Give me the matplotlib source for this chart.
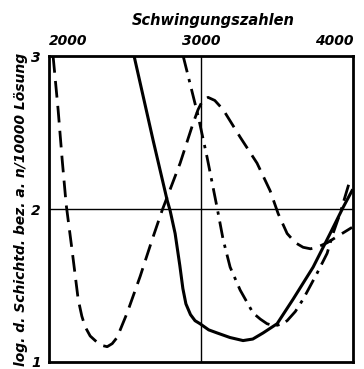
import matplotlib.pyplot as plt

# curves (x = Schwingungszahl, y = log Schichtdicke)
solid_x = [2559, 2684, 2776, 2796, 2829, 2860, 2880, 2900, 2930, 2960, 2993, 3050, 3105, 3190, 3276,
           3340, 3408, 3500, 3605, 3737, 3849, 3934, 3993]
solid_y = [3.00, 2.45, 2.06, 1.99, 1.84, 1.63, 1.48, 1.38, 1.31, 1.27, 1.25, 1.21, 1.19, 1.16, 1.14,
           1.15, 1.19, 1.25, 1.41, 1.62, 1.84, 2.01, 2.12]

dash_x = [2026, 2059, 2086, 2112, 2151, 2191, 2215, 2237, 2270, 2303, 2340, 2382, 2415, 2447, 2513,
          2599, 2678, 2743, 2862, 2947, 2980, 3010, 3046, 3090, 3145, 3257, 3368, 3454, 3507, 3566,
          3620, 3671, 3720, 3763, 3830, 3895, 3993]
dash_y = [3.00, 2.65, 2.32, 2.03, 1.73, 1.41, 1.30, 1.23, 1.17, 1.14, 1.11, 1.10, 1.12, 1.16, 1.32,
          1.56, 1.80, 1.99, 2.30, 2.56, 2.65, 2.71, 2.73, 2.71, 2.65, 2.47, 2.30, 2.12, 1.97, 1.84,
          1.78, 1.75, 1.74, 1.75, 1.78, 1.82, 1.88]

dashdot_x = [2882, 2980, 3039, 3105, 3145, 3191, 3257, 3342, 3390, 3434, 3470, 3500, 3535, 3566,
             3620, 3671, 3763, 3829, 3868, 3914, 3980]
dashdot_y = [3.00, 2.61, 2.34, 2.01, 1.80, 1.62, 1.47, 1.32, 1.28, 1.25, 1.24, 1.24, 1.25, 1.27,
             1.33, 1.41, 1.58, 1.71, 1.84, 1.97, 2.19]

xticks = [2000, 3000, 4000]
yticks = [1, 2, 3]

font = dict(fontstyle='italic', fontweight='bold', family='DejaVu Sans')

fig = plt.figure(figsize=(3.64, 3.69), dpi=100)
ax = fig.add_axes([0.135, 0.019, 0.835, 0.829])

ax.plot(solid_x, solid_y, color='black', lw=2.2, solid_joinstyle='round')
ax.plot(dash_x, dash_y, color='black', lw=2.0, dashes=(6, 3), dash_joinstyle='round')
ax.plot(dashdot_x, dashdot_y, color='black', lw=2.0, dashes=(6, 2.5, 1.2, 2.5), dash_joinstyle='round')

ax.axvline(3000, color='black', lw=1.0)
ax.axhline(2, color='black', lw=1.0)

ax.set_xlim(2000, 4000)
ax.set_ylim(1, 3)
for s in ax.spines.values():
    s.set_linewidth(2.0)

ax.xaxis.tick_top()
ax.set_xticks(xticks)
ax.set_xticklabels([str(v) for v in xticks], fontsize=10, **font)
ax.set_yticks(yticks)
ax.set_yticklabels([str(v) for v in yticks], fontsize=10, **font)
ax.tick_params(axis='x', length=0, pad=6)
ax.tick_params(axis='y', length=0, pad=6)
labels = ax.get_xticklabels()
labels[0].set_horizontalalignment('left')
labels[2].set_horizontalalignment('right')

fig.text(0.585, 0.945, 'Schwingungszahlen', fontsize=10.5, ha='center', va='center', **font)
ax.set_ylabel('log. d. Schichtd. bez. a. n/10000 Lösung', fontsize=10, labelpad=2, **font)

fig.savefig('out.png', dpi=100)
